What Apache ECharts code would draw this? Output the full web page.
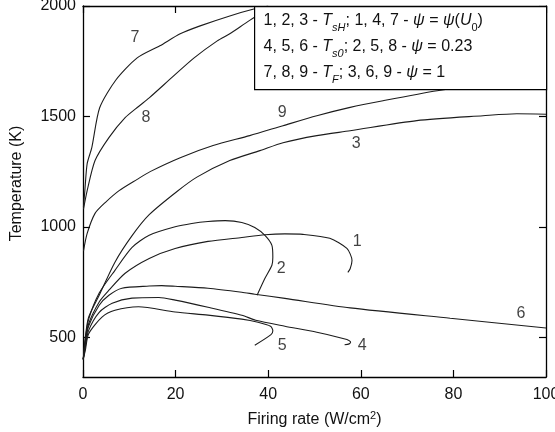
<!DOCTYPE html>
<html>
<head>
<meta charset="utf-8">
<script src="https://cdn.jsdelivr.net/npm/echarts@6/dist/echarts.min.js"></script>
<style>
  html, body { margin: 0; padding: 0; background: #fff; }
  #chart { width: 555px; height: 432px; }
</style>
</head>
<body>
<div id="chart"></div>
<script>
// firing rate (W/cm2), temperature (K) pairs
var curve1 = [[0.05,400],[0.5,480],[1.2,560],[3.5,660],[5.6,713],[9.1,790],[14.3,857],[19.9,902],[27,934],[34.3,952],[39.3,964],[43.6,968],[47.5,966],[53.3,948],[57,902],[58.1,848],[57.7,810],[57.2,794]];
var curve2 = [[0.05,400],[0.5,490],[1.2,580],[3.5,700],[6.9,803],[10.6,907],[14.3,962],[19.9,1000],[23.5,1015],[27,1024],[30.7,1028],[34.3,1020],[37.1,997],[39.3,961],[40.8,916],[41,862],[40.8,826],[39.3,767],[37.6,690]];
var curve3 = [[0.05,400],[0.5,500],[1.2,590],[3.5,690],[6.9,840],[10.6,960],[14.3,1055],[20.3,1160],[24.6,1225],[31.7,1300],[38.2,1345],[43.2,1381],[50.5,1413],[57.7,1435],[72.1,1481],[86.4,1503],[93.7,1512],[100,1510]];
var curve4 = [[0.05,400],[0.5,455],[1.2,530],[3.5,613],[6.3,654],[10.6,677],[16.4,680],[19.9,668],[27,636],[34.3,600],[37.3,577],[43.6,550],[50.5,523],[57,490],[57.8,478],[57.5,470],[56.5,466]];
var curve5 = [[0.05,400],[0.5,440],[1.2,515],[4.1,591],[6.9,622],[12,638],[19.9,614],[27,600],[34.3,582],[37.8,568],[40.5,550],[41,530],[40.6,512],[37.1,464]];
var curve6 = [[0.05,400],[0.5,470],[1.2,550],[3.5,645],[5.6,690],[8.4,722],[14.3,732],[17,734],[19.9,731],[27,722],[34.3,704],[37.1,695],[43.6,676],[57.7,633],[79.3,586],[100,542]];
var curve7 = [[0.1,1090],[0.4,1164],[0.9,1286],[1.9,1359],[3.6,1539],[7.1,1665],[11.7,1765],[16.6,1820],[21,1874],[25.3,1910],[31.7,1955],[36.9,1986],[40,2000]];
var curve8 = [[0.1,1080],[0.9,1164],[2.6,1300],[5.6,1404],[9.1,1494],[12,1545],[14.3,1584],[19.4,1680],[24,1765],[29,1842],[31.7,1874],[36,1935],[40,1985]];
var curve9 = [[0.1,890],[0.9,970],[2.6,1061],[4.8,1110],[7.8,1164],[11.7,1215],[14.5,1250],[21,1313],[28.1,1368],[36,1413],[43.2,1458],[50.5,1503],[57.7,1541],[64.8,1571],[76.5,1616],[100,1690]];

var curveNames = ['1', '2', '3', '4', '5', '6', '7', '8', '9'];
var curveData = [curve1, curve2, curve3, curve4, curve5, curve6, curve7, curve8, curve9];
// where each curve number is written
var labelPos = [[59.2,934],[42.8,812],[59,1377],[60.3,460],[43,460],[94.6,609],[11.2,1855],[13.6,1494],[43,1517]];

var xTicks = [0, 20, 40, 60, 80, 100];
var yTicks = [500, 1000, 1500, 2000];

var chart = echarts.init(document.getElementById('chart'));

var font = 'Liberation Sans, Arial, sans-serif';
var axisColor = '#000';

function xAx(pos, show) {
    return {
        type: 'value', position: pos, min: 0, max: 100, interval: 20,
        axisLine: { show: true, onZero: false, lineStyle: { color: axisColor, width: 1.3 } },
        axisTick: { show: true, inside: true, length: 7, lineStyle: { color: axisColor, width: 1.2 } },
        axisLabel: { show: show, margin: 10, color: '#111', fontSize: 16, fontFamily: font },
        splitLine: { show: false },
        name: show ? '{a|Firing rate (W/cm}{b|2}{a|)}' : '',
        nameLocation: 'middle', nameGap: 33,
        nameTextStyle: {
            color: '#111', fontSize: 16, fontFamily: font,
            rich: {
                a: { fontSize: 16, fontFamily: font, color: '#111', lineHeight: 20 },
                b: { fontSize: 11, fontFamily: font, color: '#111', lineHeight: 11, verticalAlign: 'top' }
            }
        }
    };
}

function yAx(pos, show) {
    return {
        type: 'value', position: pos, min: 320, max: 2000,
        axisLine: { show: true, onZero: false, lineStyle: { color: axisColor, width: 1.3 } },
        axisTick: { show: true, inside: true, length: 7, customValues: yTicks, lineStyle: { color: axisColor, width: 1.2 } },
        axisLabel: {
            show: show, margin: 7, customValues: yTicks, color: '#111', fontSize: 16, fontFamily: font,
            formatter: function (v) { return String(v); }
        },
        splitLine: { show: false },
        name: show ? 'Temperature (K)' : '',
        nameLocation: 'middle', nameGap: 58,
        nameTextStyle: { color: '#111', fontSize: 16, fontFamily: font, padding: [0, 0, 0, 16] }
    };
}

var series = curveData.map(function (d, i) {
    return {
        name: curveNames[i],
        type: 'line',
        data: d,
        smooth: 0.25,
        showSymbol: false,
        symbol: 'none',
        clip: true,
        lineStyle: { color: '#1c1c1c', width: 1.1 },
        silent: true
    };
});

series.push({
    type: 'scatter',
    symbolSize: 0,
    silent: true,
    z: 5,
    data: labelPos.map(function (p, i) { return { name: curveNames[i], value: p }; }),
    label: {
        show: true, position: 'inside', formatter: '{b}',
        color: '#111', fontSize: 16, fontFamily: font
    }
});

var n = { fontSize: 16, fontFamily: font, lineHeight: 26, fill: '#111' };
var it = { fontSize: 16, fontFamily: font, fontStyle: 'italic', lineHeight: 26, fill: '#111' };
var sub = { fontSize: 11, fontFamily: font, fontStyle: 'italic', lineHeight: 14, verticalAlign: 'bottom', fill: '#111' };
var sub0 = { fontSize: 11, fontFamily: font, lineHeight: 14, verticalAlign: 'bottom', fill: '#111' };

var legendText = [
    '{n|1, 2, 3 - }{i|T}{s|sH}{n|; 1, 4, 7 - }{i|ψ}{n| = }{i|ψ}{n|(}{i|U}{z|0}{n|)}',
    '{n|4, 5, 6 - }{i|T}{s|s0}{n|; 2, 5, 8 - }{i|ψ}{n| = 0.23}',
    '{n|7, 8, 9 - }{i|T}{s|F}{n|; 3, 6, 9 - }{i|ψ}{n| = 1}'
].join('\n');

var option = {
    animation: false,
    backgroundColor: '#fff',
    grid: { left: 83, right: 9, top: 6, bottom: 55, containLabel: false, outerBoundsMode: 'none' },
    xAxis: [xAx('bottom', true), xAx('top', false)],
    yAxis: [yAx('left', true), yAx('right', false)],
    series: series,
    graphic: [{
        type: 'group',
        left: 254, top: 6, z: 100,
        children: [{
            type: 'rect', z: 100,
            shape: { x: 0, y: 0, width: 292, height: 83 },
            style: { fill: '#fff', stroke: '#000', lineWidth: 1.2 }
        }, {
            type: 'text', z: 101,
            x: 9, y: 1,
            style: {
                text: legendText,
                rich: { n: n, i: it, s: sub, z: sub0 },
                fill: '#111', font: '16px ' + font
            }
        }]
    }]
};

chart.setOption(option);
</script>
</body>
</html>
